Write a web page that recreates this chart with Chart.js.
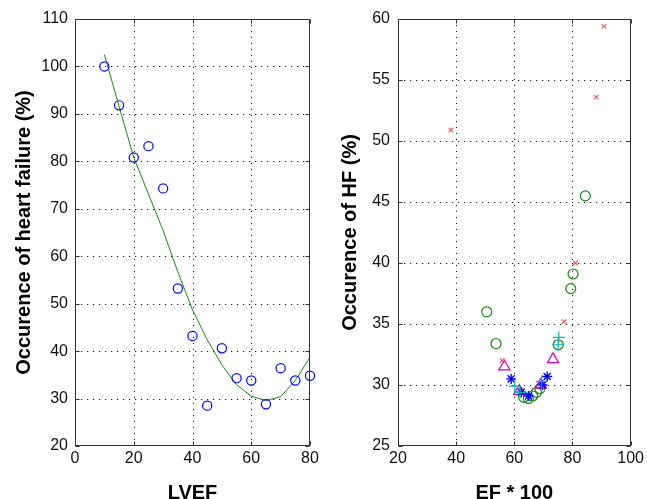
<!DOCTYPE html>
<html>
<head>
<meta charset="utf-8">
<script src="https://cdn.jsdelivr.net/npm/chart.js@4.4.1/dist/chart.umd.min.js"></script>
<style>
  html, body { margin: 0; padding: 0; background: #fff; }
  #wrap { position: relative; width: 647px; height: 499px; overflow: hidden; }
  canvas { position: absolute; top: 0; }
  #c1 { left: 0; }
  #c2 { left: 323px; }
</style>
</head>
<body>
<div id="wrap">
  <canvas id="c1" width="323" height="499"></canvas>
  <canvas id="c2" width="324" height="499"></canvas>
</div>
<script>
// ---------- Left panel data ----------
const lvefX   = [10, 15, 20, 25, 30, 35, 40, 45, 50, 55, 60, 65, 70, 75, 80];
const lvefHF  = [100, 91.8, 80.8, 83.2, 74.3, 53.2, 43.2, 28.5, 40.6, 34.3, 33.8, 28.8, 36.4, 33.8, 34.8];
const fitHF   = [102.5, 91.6, 80.8, 73.1, 65.4, 56.7, 48.7, 42.4, 37.1, 32.9, 30.5, 29.6, 30.4, 33.8, 38.7];
const leftXTicks = [0, 20, 40, 60, 80];
const leftYTicks = [20, 30, 40, 50, 60, 70, 80, 90, 100, 110];

// ---------- Right panel data ----------
const redX   = [38.2, 90.8, 88.2, 81.0, 77.1, 55.8, 62.3, 65.1];
const redY   = [50.9, 59.4, 53.6, 40.0, 35.2, 32.0, 29.6, 29.0];
const greenX = [84.4, 80.2, 79.4, 50.5, 53.7, 75.1, 63.2, 64.8, 66.3, 67.6, 68.8];
const greenY = [45.5, 39.1, 37.9, 36.0, 33.4, 33.3, 29.0, 28.9, 29.1, 29.4, 29.7];
const magX   = [56.6, 73.3, 61.7, 69.1];
const magY   = [31.5, 32.1, 29.5, 30.0];
const blueX  = [58.9, 71.3, 64.9, 69.7, 62.4];
const blueY  = [30.5, 30.7, 29.1, 30.0, 29.4];
const cyanX  = [75.3, 75.1, 60.2, 62.0, 69.4];
const cyanY  = [33.9, 33.3, 29.9, 29.4, 30.3];
const rightXTicks = [20, 40, 60, 80, 100];
const rightYTicks = [25, 30, 35, 40, 45, 50, 55, 60];

const FONT = "'Liberation Sans', Arial, Helvetica, sans-serif";
const pts = (xs, ys) => xs.map((x, i) => ({x: x, y: ys[i]}));

// Dotted grid (MATLAB style), drawn from the library's scales
const gridPlugin = {
  id: 'gridPlugin',
  beforeDatasetsDraw(chart) {
    const {ctx, chartArea: a, scales} = chart;
    ctx.save();
    ctx.strokeStyle = '#1a1a1a';
    ctx.lineWidth = 1;
    ctx.setLineDash([1.2, 4.8]);
    ctx.beginPath();
    scales.x.ticks.forEach(t => {
      const px = Math.round(scales.x.getPixelForValue(t.value)) + 0.5;
      if (px <= a.left + 1 || px >= a.right - 1) return;
      ctx.moveTo(px, a.bottom); ctx.lineTo(px, a.top);
    });
    scales.y.ticks.forEach(t => {
      const py = Math.round(scales.y.getPixelForValue(t.value)) + 0.5;
      if (py <= a.top + 1 || py >= a.bottom - 1) return;
      ctx.moveTo(a.left, py); ctx.lineTo(a.right, py);
    });
    ctx.stroke();
    ctx.restore();
  },
  afterDraw(chart) {
    const {ctx, chartArea: a, scales} = chart;
    ctx.save();
    ctx.strokeStyle = '#333';
    ctx.lineWidth = 1;
    const L = Math.round(a.left) + 0.5, R = Math.round(a.right) - 0.5;
    const T = Math.round(a.top) + 0.5, B = Math.round(a.bottom) - 0.5;
    ctx.strokeRect(L, T, R - L, B - T);
    const tl = 4;
    ctx.beginPath();
    scales.x.ticks.forEach(t => {
      const px = Math.round(scales.x.getPixelForValue(t.value)) + 0.5;
      ctx.moveTo(px, B); ctx.lineTo(px, B - tl);
      ctx.moveTo(px, T); ctx.lineTo(px, T + tl);
    });
    scales.y.ticks.forEach(t => {
      const py = Math.round(scales.y.getPixelForValue(t.value)) + 0.5;
      ctx.moveTo(L, py); ctx.lineTo(L + tl, py);
      ctx.moveTo(R, py); ctx.lineTo(R - tl, py);
    });
    ctx.stroke();
    ctx.restore();
  }
};

function axes(xmin, xmax, xticks, ymin, ymax, yticks, xTitle, yTitle, yTitlePad, yTickPad) {
  const grid = {display: false, drawTicks: false};
  return {
    x: {
      type: 'linear', min: xmin, max: xmax,
      afterBuildTicks: s => { s.ticks = xticks.map(v => ({value: v})); },
      afterFit: s => { s.height = 53; },
      grid: grid,
      border: {display: false},
      ticks: {color: '#111', padding: 3, font: {family: FONT, size: 16}, maxRotation: 0},
      title: {display: true, text: xTitle, color: '#000',
              font: {family: FONT, size: 20, weight: 'bold', lineHeight: 1.2},
              padding: {top: 0, bottom: -6}}
    },
    y: {
      type: 'linear', min: ymin, max: ymax,
      afterBuildTicks: s => { s.ticks = yticks.map(v => ({value: v})); },
      afterFit: s => { s.width = 75; },
      grid: grid,
      border: {display: false},
      ticks: {color: '#111', padding: yTickPad, font: {family: FONT, size: 16}},
      title: {display: true, text: yTitle, color: '#000',
              font: {family: FONT, size: 20, weight: 'bold', lineHeight: 1.2},
              padding: {top: yTitlePad, bottom: 0}}
    }
  };
}

const common = (padRight) => ({
  responsive: false,
  animation: false,
  devicePixelRatio: 1,
  layout: {padding: {top: 19, right: padRight, left: 0, bottom: 0}},
  plugins: {legend: {display: false}, tooltip: {enabled: false}}
});

// Left chart
const opt1 = common(13);
opt1.scales = axes(0, 80, leftXTicks, 20, 110, leftYTicks, 'LVEF', 'Occurence of heart failure (%)', 12, 7);
new Chart(document.getElementById('c1'), {
  type: 'scatter',
  data: {
    datasets: [
      {data: pts(lvefX, lvefHF), pointStyle: 'circle', pointRadius: 4.6, borderColor: '#0000ff',
       backgroundColor: 'rgba(0,0,0,0)', borderWidth: 1.2, clip: false, order: 1},
      {data: pts(lvefX, fitHF), showLine: true, pointRadius: 0, borderColor: '#138a13',
       borderWidth: 1, fill: false, clip: false, order: 2}
    ]
  },
  options: opt1,
  plugins: [gridPlugin]
});

// Right chart
const opt2 = common(15);
opt2.scales = axes(20, 100, rightXTicks, 25, 60, rightYTicks, 'EF * 100', 'Occurence of HF (%)', 15, 8);
new Chart(document.getElementById('c2'), {
  type: 'scatter',
  data: {
    datasets: [
      {data: pts(cyanX, cyanY), pointStyle: 'cross', pointRadius: 6, borderColor: '#00b3b3',
       backgroundColor: 'rgba(0,0,0,0)', borderWidth: 1.2, clip: false},
      {data: pts(blueX, blueY), pointStyle: 'star', pointRadius: 5, borderColor: '#0000ff',
       backgroundColor: 'rgba(0,0,0,0)', borderWidth: 1.4, clip: false},
      {data: pts(magX, magY), pointStyle: 'triangle', pointRadius: 6.5, borderColor: '#d000d0',
       backgroundColor: 'rgba(0,0,0,0)', borderWidth: 1.2, clip: false},
      {data: pts(greenX, greenY), pointStyle: 'circle', pointRadius: 5, borderColor: '#138a13',
       backgroundColor: 'rgba(0,0,0,0)', borderWidth: 1.2, clip: false},
      {data: pts(redX, redY), pointStyle: 'crossRot', pointRadius: 3.2, borderColor: '#ff5050',
       backgroundColor: 'rgba(0,0,0,0)', borderWidth: 1.1, clip: false}
    ]
  },
  options: opt2,
  plugins: [gridPlugin]
});
</script>
</body>
</html>
